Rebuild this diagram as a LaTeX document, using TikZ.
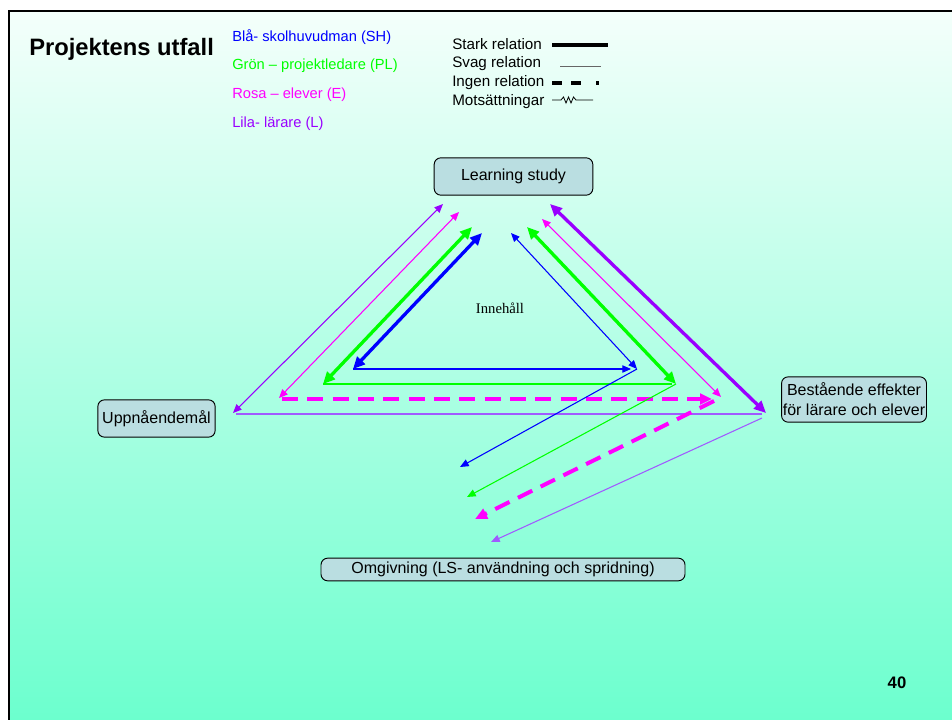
\documentclass[tikz,border=0pt]{standalone}
\usepackage{fontspec}
\setmainfont{Liberation Sans}
\newfontfamily\serifx{Liberation Serif}
\usetikzlibrary{arrows.meta}
\definecolor{cblue}{RGB}{0,0,255}
\definecolor{cgreen}{RGB}{0,255,0}
\definecolor{cpink}{RGB}{255,0,255}
\definecolor{cpurple}{RGB}{153,0,255}
\definecolor{cpurplel}{RGB}{160,90,255}
\definecolor{boxfill}{RGB}{186,222,225}
\definecolor{bgtop}{RGB}{244,255,251}
\definecolor{bgbot}{RGB}{108,255,206}
\begin{document}
\begin{tikzpicture}[x=0.75pt,y=-0.75pt,
  lbox/.style={draw=black,fill=boxfill,rounded corners=5pt,line width=0.7pt,inner sep=1pt,
    font=\fontsize{12}{15}\selectfont,align=center},
  plain/.style={inner sep=0pt,anchor=west},
  legtxt/.style={plain,font=\fontsize{11}{13}\selectfont},
  reltxt/.style={plain,font=\fontsize{11.4}{14}\selectfont},
  thkboth/.style={line width=2.5pt,{Triangle[length=9pt,width=8pt]}-{Triangle[length=9pt,width=8pt]}},
  thnboth/.style={line width=0.8pt,{Triangle[length=6.5pt,width=5.5pt]}-{Triangle[length=6.5pt,width=5.5pt]}},
  thnend/.style={line width=0.8pt,-{Triangle[length=6.5pt,width=5.5pt]}},
  dashend/.style={line width=3pt,dash pattern=on 12pt off 7pt,-{Triangle[length=9pt,width=8pt]}},
]
\useasboundingbox (0,0) rectangle (952,720);
\fill[white] (0,0) rectangle (952,720);
\shade[top color=bgtop,bottom color=bgbot] (9,11) rectangle (952,720);
\draw[line width=1.6pt] (9,720) -- (9,11) -- (952,11);

% title and legends
\node[plain,font=\bfseries\fontsize{17.8}{20}\selectfont] (title) at (29,49) {Projektens utfall};
\node[legtxt,text=cblue] (lblue) at (232,37) {Blå- skolhuvudman (SH)};
\node[legtxt,text=cgreen] (lgreen) at (232,66) {Grön -- projektledare (PL)};
\node[legtxt,text=cpink] (lpink) at (232,95) {Rosa -- elever (E)};
\node[legtxt,text=cpurple] (lpurple) at (232,124) {Lila- lärare (L)};

\node[reltxt] (rstark) at (452,44) {Stark relation};
\node[reltxt] (rsvag) at (452,64) {Svag relation};
\node[reltxt] (ringen) at (452,83) {Ingen relation};
\node[reltxt] (rmot) at (452,102) {Motsättningar};
\draw[line width=2.3pt] (552,45) -- (608,45);
\draw[line width=0.6pt,black!60] (560,66) -- (601,66);
\draw[line width=2.3pt] (552,83) -- (562,83) (571,83) -- (581,83) (596,83) -- (599,83);
\draw[line width=0.6pt] (552,100) -- (561,100) -- (563.5,97) -- (566,103) -- (568.5,97) -- (571,103) -- (573.5,97) -- (576,100) -- (593,100);

% nodes
\node[lbox,minimum width=119pt,minimum height=28pt] (ls) at (513.5,176.5) {Learning study};
\node[lbox,minimum width=88pt,minimum height=28pt] (up) at (156.5,418.5) {Uppnåendemål};
\node[lbox,minimum width=108pt,minimum height=34pt] (be) at (854,399.5) {Bestående effekter\\för lärare och elever};
\node[lbox,minimum width=273pt,minimum height=17pt] (om) at (503,569.5) {Omgivning (LS- användning och spridning)};
\node[font=\serifx\fontsize{11}{12}\selectfont,inner sep=0pt] (inn) at (500,308) {Innehåll};
\node[font=\bfseries\fontsize{12.5}{14}\selectfont,inner sep=0pt] (pg) at (897,683) {40};

% coordinates
\coordinate (P1t) at (443,204); \coordinate (P1b) at (233,413);
\coordinate (M1t) at (459,212); \coordinate (M1b) at (279,398);
\coordinate (G1t) at (472,227); \coordinate (G1b) at (323,384);
\coordinate (B1t) at (482,233); \coordinate (B1b) at (353,369);
\coordinate (B2t) at (511,233); \coordinate (B2b) at (637,369);
\coordinate (G2t) at (527,227); \coordinate (G2b) at (676,384);
\coordinate (M2t) at (542,219); \coordinate (M2b) at (721,397);
\coordinate (P2t) at (550,204); \coordinate (P2b) at (766,413);
\coordinate (Bh) at (631,369);
\coordinate (Gh) at (672,384);
\coordinate (Mhl) at (282,399); \coordinate (Mh) at (712,399);
\coordinate (Phl) at (236,414); \coordinate (Ph) at (762,414);
\coordinate (Bl) at (460,467);
\coordinate (Gl) at (467,497);
\coordinate (Ml) at (475,519);
\coordinate (Mls) at (714,401);
\coordinate (Pls) at (762,418);
\coordinate (Pl) at (491,542);

% horizontals
\draw[cpurplel,line width=0.9pt] (Phl) -- (Ph);
\draw[cpink,dashend] (Mhl) -- (Mh);
\draw[cgreen,line width=0.9pt] (G1b) -- (Gh);
\draw[cblue,thnend] (B1b) -- (Bh);

% lower diagonals
\draw[cblue,thnend] (B2b) -- (Bl);
\draw[cgreen,thnend] (G2b) -- (Gl);
\draw[cpink,dashend] (Mls) -- (Ml);
\draw[cpurplel,thnend] (Pls) -- (Pl);

% left diagonals
\draw[cpurple,thnboth] (P1t) -- (P1b);
\draw[cpink,thnboth] (M1t) -- (M1b);
\draw[cgreen,thkboth] (G1t) -- (G1b);
\draw[cblue,thkboth] (B1t) -- (B1b);

% right diagonals
\draw[cblue,thnboth] (B2t) -- (B2b);
\draw[cgreen,thkboth] (G2t) -- (G2b);
\draw[cpink,thnboth] (M2t) -- (M2b);
\draw[cpurple,thkboth] (P2t) -- (P2b);
\end{tikzpicture}
\end{document}
